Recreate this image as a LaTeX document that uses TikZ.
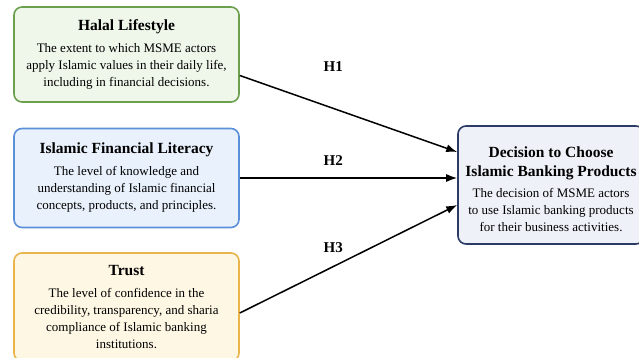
\documentclass[tikz,border=0pt]{standalone}
\usepackage{fontspec}
\setmainfont{Liberation Serif}
\usetikzlibrary{arrows.meta,positioning}
\definecolor{hlLine}{HTML}{6C9F4E}
\definecolor{hlFill}{HTML}{EFF6EA}
\definecolor{flLine}{HTML}{5B8FD8}
\definecolor{flFill}{HTML}{E9F1FC}
\definecolor{trLine}{HTML}{E9B44A}
\definecolor{trFill}{HTML}{FEF7E4}
\definecolor{dcLine}{HTML}{2C3A66}
\definecolor{dcFill}{HTML}{EEF2F8}
\tikzset{
  every picture/.style={x=1pt,y=-1pt},
  cbox/.style={draw, rounded corners=8pt, line width=1.6pt, align=center,
               inner sep=0pt, font=\fontsize{13}{17}\selectfont},
  carrow/.style={line width=1.5pt, -{Latex[length=11pt,width=8pt]}},
  clabel/.style={font=\fontsize{15}{17}\selectfont\bfseries},
}
\newcommand{\cboxhead}[1]{{\fontsize{15.5}{17}\selectfont\bfseries #1}}

\begin{document}
\begin{tikzpicture}
  \useasboundingbox (0,0) rectangle (639,358);
  \node[cbox, draw=hlLine, fill=hlFill, minimum width=225pt, minimum height=95pt]
        (halal) at (126.5,54.5) {\cboxhead{Halal Lifestyle}\\[5pt]
        The extent to which MSME actors\\apply Islamic values in their daily life,\\
        including in financial decisions.};
  \node[cbox, draw=flLine, fill=flFill, minimum width=225pt, minimum height=99pt]
        (literacy) at (126.5,178) {\cboxhead{Islamic Financial Literacy}\\[5pt]
        The level of knowledge and\\understanding of Islamic financial\\
        concepts, products, and principles.};
  \node[cbox, draw=trLine, fill=trFill, minimum width=225pt, minimum height=108pt]
        (trust) at (126.5,307) {\cboxhead{Trust}\\[5pt]
        The level of confidence in the\\credibility, transparency, and sharia\\
        compliance of Islamic banking\\institutions.};
  \node[cbox, draw=dcLine, fill=dcFill, minimum width=186pt, minimum height=118pt]
        (decision) at (551,185) {\rule{0pt}{20pt}\cboxhead{Decision to Choose}\\[2pt]
        \cboxhead{Islamic Banking Products}\\[4pt]
        The decision of MSME actors\\to use Islamic banking products\\
        for their business activities.};
  \draw[carrow] ([yshift=-21pt]halal.east) -- node[clabel, pos=0.43, above=33pt] {H1}
        ([yshift=33pt]decision.west);
  \draw[carrow] (literacy.east) -- node[clabel, pos=0.43, above=8pt] {H2}
        ([yshift=7pt]decision.west);
  \draw[carrow] ([yshift=-6pt]trust.east) -- node[clabel, pos=0.43, above=10pt] {H3}
        ([yshift=-20pt]decision.west);
\end{tikzpicture}
\end{document}
